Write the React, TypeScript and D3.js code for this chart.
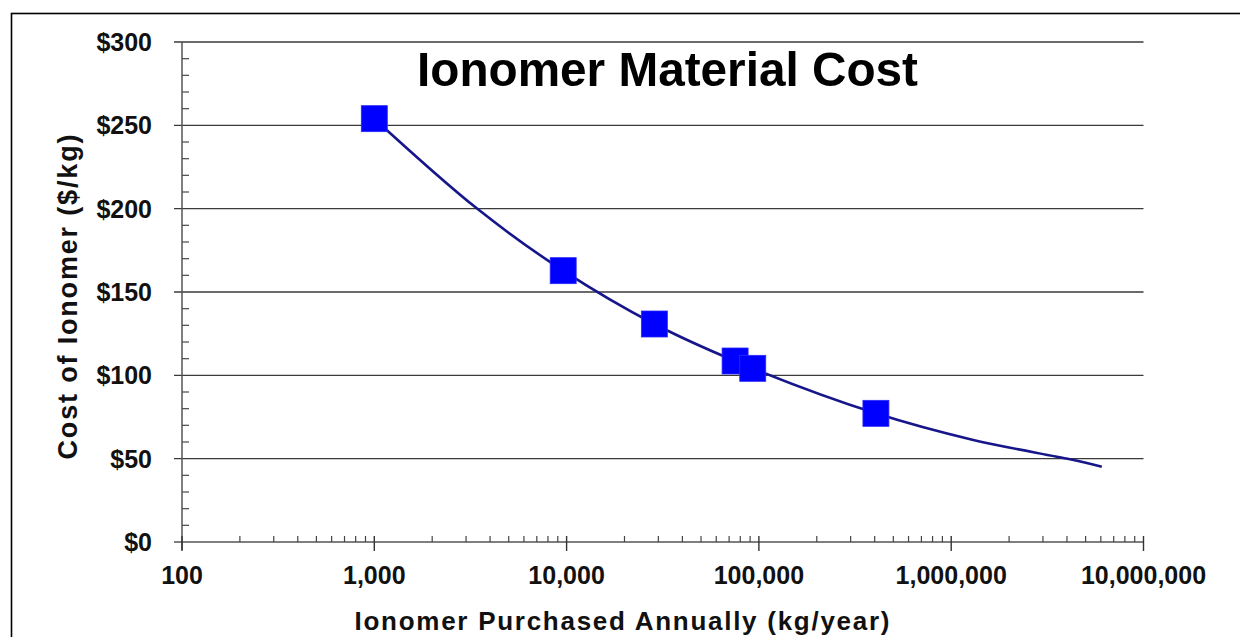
import React from "react";
import * as d3 from "d3";

// Marker data (kg/year, $/kg)
const markerVolumes = [1000, 9600, 28600, 75200, 92900, 406000];
const markerCosts = [254, 162.8, 130.8, 108.6, 104.2, 77.2];

// Smoothed curve points
const curveVolumes = [1000, 3410, 9600, 28600, 92900, 406000, 1303000, 4150000, 6070000];
const curveCosts = [254, 200.2, 162.8, 130.8, 104.2, 77.2, 61.2, 49.6, 45.2];

const yTicks = [0, 50, 100, 150, 200, 250, 300];
const xTicks = [100, 1000, 10000, 100000, 1000000, 10000000];
const xTickLabels = ["100", "1,000", "10,000", "100,000", "1,000,000", "10,000,000"];

const W = 1240;
const H = 637;
const plotLeft = 182;
const plotRight = 1143.5;
const plotTop = 42;
const plotBottom = 542;
const FONT = "'Liberation Sans', Arial, sans-serif";

export default function App() {
  const x = d3.scaleLog().domain([100, 10000000]).range([plotLeft, plotRight]);
  const y = d3.scaleLinear().domain([0, 300]).range([plotBottom, plotTop]);

  const minorY = d3.range(0, 301, 10).filter((v) => v % 50 !== 0);
  const minorX: number[] = [];
  for (let e = 2; e < 7; e++) {
    for (let m = 2; m <= 9; m++) minorX.push(m * Math.pow(10, e));
  }

  const curvePts: [number, number][] = curveVolumes.map((v, i) => [v, curveCosts[i]]);
  const line = d3
    .line<[number, number]>()
    .x((d) => x(d[0]))
    .y((d) => y(d[1]))
    .curve(d3.curveCatmullRom.alpha(0.5));

  const ms = 26;

  return (
    <svg
      width={W}
      height={H}
      style={{ position: "absolute", left: 0, top: 0, background: "#fff" }}
      fontFamily={FONT}
    >
      <rect x={0} y={0} width={W} height={H} fill="#fff" />
      {/* outer frame */}
      <rect x={11.5} y={13.5} width={W + 20} height={H + 20} fill="none" stroke="#000" strokeWidth={1.6} />

      {/* gridlines + major y ticks */}
      {yTicks.map((t) => (
        <line
          key={"g" + t}
          x1={plotLeft - 8}
          x2={plotRight}
          y1={y(t)}
          y2={y(t)}
          stroke={t === 0 ? "#555" : "#3a3a3a"}
          strokeWidth={1.4}
        />
      ))}
      {/* minor y ticks */}
      {minorY.map((t) => (
        <line key={"my" + t} x1={plotLeft} x2={plotLeft + 7} y1={y(t)} y2={y(t)} stroke="#555" strokeWidth={1.3} />
      ))}
      {/* y axis line */}
      <line x1={plotLeft} x2={plotLeft} y1={plotTop} y2={plotBottom + 8} stroke="#555" strokeWidth={1.5} />

      {/* minor x ticks */}
      {minorX.map((t) => (
        <line key={"mx" + t} x1={x(t)} x2={x(t)} y1={plotBottom - 6} y2={plotBottom} stroke="#444" strokeWidth={1.2} />
      ))}
      {/* major x ticks */}
      {xTicks.map((t) => (
        <line key={"Mx" + t} x1={x(t)} x2={x(t)} y1={plotBottom - 6} y2={plotBottom + 9} stroke="#333" strokeWidth={1.4} />
      ))}

      {/* y tick labels */}
      {yTicks.map((t) => (
        <text
          key={"yl" + t}
          x={152}
          y={y(t)}
          dy="0.36em"
          textAnchor="end"
          fontSize={25}
          fontWeight="bold"
          fill="#111"
        >
          {"$" + t}
        </text>
      ))}
      {/* x tick labels */}
      {xTicks.map((t, i) => (
        <text key={"xl" + t} x={x(t)} y={584} textAnchor="middle" fontSize={25} fontWeight="bold" fill="#111">
          {xTickLabels[i]}
        </text>
      ))}

      {/* curve */}
      <path d={line(curvePts) || ""} fill="none" stroke="#16168a" strokeWidth={2.6} />

      {/* markers */}
      {markerVolumes.map((v, i) => (
        <rect
          key={"m" + i}
          x={x(v) - ms / 2}
          y={y(markerCosts[i]) - ms / 2}
          width={ms}
          height={ms}
          fill="#0000ff"
          stroke="#2a2aff"
          strokeWidth={0.8}
        />
      ))}

      {/* title */}
      <text
        x={667.5}
        y={86}
        textAnchor="middle"
        fontSize={49}
        fontWeight="bold"
        fill="#000"
        textLength={501}
        lengthAdjust="spacingAndGlyphs"
      >
        Ionomer Material Cost
      </text>

      {/* y axis title */}
      <text
        transform="translate(77,297) rotate(-90)"
        textAnchor="middle"
        fontSize={27}
        fontWeight="bold"
        fill="#111"
        textLength={325}
        lengthAdjust="spacing"
      >
        Cost of Ionomer  ($/kg)
      </text>

      {/* x axis title */}
      <text
        x={622}
        y={630}
        textAnchor="middle"
        fontSize={26}
        fontWeight="bold"
        fill="#111"
        textLength={535}
        lengthAdjust="spacing"
      >
        Ionomer  Purchased Annually (kg/year)
      </text>
    </svg>
  );
}
